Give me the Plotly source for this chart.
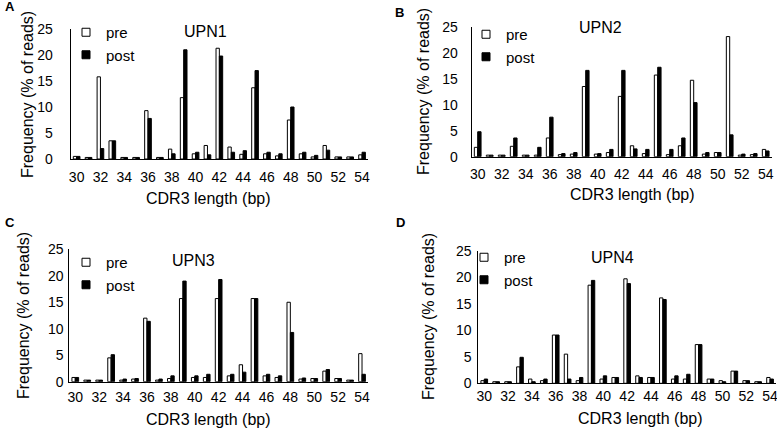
import plotly.graph_objects as go

lengths = list(range(30, 55))
tick_labels = [str(v) for v in range(30, 55, 2)]

upn1_pre = [0.5, 0.3, 15.8, 3.5, 0.3, 0.3, 9.3, 0.3, 1.9, 11.8, 1.0, 2.6, 21.3, 2.3, 0.9, 13.7, 1.0, 0.6, 7.5, 1.0, 0.4, 2.6, 0.4, 0.4, 0.8]
upn1_post = [0.5, 0.3, 2.0, 3.5, 0.3, 0.3, 7.8, 0.3, 1.0, 21.0, 1.3, 0.8, 19.8, 1.3, 1.6, 17.0, 1.3, 1.0, 10.0, 1.3, 0.7, 1.7, 0.4, 0.4, 1.3]

upn2_pre = [1.8, 0.3, 0.3, 2.0, 0.3, 0.3, 3.6, 0.4, 0.5, 13.5, 0.5, 0.8, 11.6, 2.1, 0.6, 15.7, 0.4, 2.1, 14.7, 0.5, 0.8, 23.1, 0.3, 0.4, 1.4]
upn2_post = [4.8, 0.3, 0.3, 3.6, 0.3, 1.8, 7.6, 0.6, 0.8, 16.6, 0.6, 1.4, 16.6, 1.5, 1.4, 17.2, 1.4, 3.6, 10.4, 0.8, 0.8, 4.2, 0.5, 0.6, 1.1]

upn3_pre = [0.8, 0.3, 0.3, 4.5, 0.3, 0.5, 12.0, 0.3, 0.6, 15.7, 0.8, 0.8, 15.7, 1.1, 3.2, 15.7, 1.1, 0.8, 15.0, 0.5, 0.6, 2.0, 0.6, 0.3, 5.3]
upn3_post = [0.8, 0.3, 0.3, 5.1, 0.5, 0.6, 11.4, 0.5, 1.1, 19.0, 1.1, 1.4, 19.3, 1.4, 1.8, 15.7, 1.4, 1.1, 9.3, 0.7, 0.6, 2.3, 0.6, 0.3, 1.4]

upn4_pre = [0.5, 0.3, 0.3, 3.1, 0.8, 0.5, 9.1, 5.5, 0.5, 18.5, 0.8, 1.1, 19.7, 1.4, 1.1, 16.1, 0.8, 0.8, 7.3, 0.8, 0.5, 2.3, 0.5, 0.3, 1.1]
upn4_post = [0.8, 0.3, 0.3, 4.9, 0.3, 0.8, 9.1, 0.8, 1.1, 19.4, 1.4, 1.1, 18.8, 1.1, 1.1, 15.8, 1.4, 1.7, 7.3, 0.8, 0.3, 2.3, 0.5, 0.3, 0.8]

panels = [
    ("UPN1", upn1_pre, upn1_post),
    ("UPN2", upn2_pre, upn2_post),
    ("UPN3", upn3_pre, upn3_post),
    ("UPN4", upn4_pre, upn4_post),
]

W, H = 777, 433
FONT = "Liberation Sans, Arial, sans-serif"

# plot areas in pixels: (x0, x1, ytop, ybottom)
areas = [
    (70.7, 368.0, 29.0, 159.0),
    (471.7, 771.7, 26.7, 156.7),
    (69.3, 368.0, 249.3, 381.7),
    (478.3, 776.0, 250.7, 383.3),
]

fig = go.Figure()
layout = dict(
    width=W, height=H, margin=dict(l=0, r=0, t=0, b=0, autoexpand=False),
    paper_bgcolor="white", plot_bgcolor="white",
    bargap=0.44, bargroupgap=0.0, barmode="group",
    font=dict(family=FONT, color="black"),
    annotations=[],
)

legend_pos = [(66, 16), (466, 18), (66, 246), (464, 241)]
title_pos = [(205, 32), (600, 27), (193, 260), (612, 257)]
letter_pos = [(3, 7), (393, 12), (3, 222), (394, 222)]
xtitle_pos = [(209, 198), (632, 194), (209, 419), (640, 418)]
ytitle_pos = [(27, 95), (423, 92), (23, 316), (428, 317)]
x_standoff = [5, 4, 2, 0]
y_standoff = [14, 10, 2, 3]
letters = ["A", "B", "C", "D"]

for i, (name, pre, post) in enumerate(panels):
    k = "" if i == 0 else str(i + 1)
    lg = "legend" + k
    x0, x1, yt, yb = areas[i]
    fig.add_trace(go.Bar(x=lengths, y=pre, name="pre", xaxis="x" + k, yaxis="y" + k,
                         marker=dict(color="white", line=dict(color="black", width=1)),
                         showlegend=False))
    fig.add_trace(go.Bar(x=lengths, y=post, name="post", xaxis="x" + k, yaxis="y" + k,
                         marker=dict(color="black", line=dict(color="black", width=1)),
                         showlegend=False))
    # legend entries (small square symbols like the original)
    fig.add_trace(go.Scatter(x=[None], y=[None], name="pre", mode="markers",
                             xaxis="x" + k, yaxis="y" + k, legend=lg,
                             marker=dict(symbol="square", size=8, color="white",
                                         line=dict(color="black", width=1))))
    fig.add_trace(go.Scatter(x=[None], y=[None], name="post", mode="markers",
                             xaxis="x" + k, yaxis="y" + k, legend=lg,
                             marker=dict(symbol="square", size=8, color="black",
                                         line=dict(color="black", width=1))))
    layout["xaxis" + k] = dict(
        domain=[x0 / W, x1 / W], anchor="y" + k, range=[29.5, 54.5],
        tickmode="array", tickvals=list(range(30, 55, 2)), ticktext=tick_labels,
        showline=True, linecolor="black", linewidth=1, showgrid=False, zeroline=False,
        ticks="", ticklabelstandoff=x_standoff[i], ticklabeloverflow="allow",
        tickfont=dict(size=14, family=FONT),
    )
    layout["yaxis" + k] = dict(
        domain=[1 - yb / H, 1 - yt / H], anchor="x" + k, range=[0, 25],
        tickmode="array", tickvals=[0, 5, 10, 15, 20, 25],
        showline=True, linecolor="black", linewidth=1, showgrid=False, zeroline=False,
        ticks="", ticklabelstandoff=y_standoff[i], ticklabeloverflow="allow",
        tickfont=dict(size=14, family=FONT),
    )
    lx, ly = legend_pos[i]
    layout[lg] = dict(
        x=lx / W, y=1 - ly / H, xanchor="left", yanchor="top",
        bgcolor="rgba(0,0,0,0)", font=dict(size=15, family=FONT),
        tracegroupgap=0, itemwidth=30,
    )
    tx, ty = title_pos[i]
    layout["annotations"].append(dict(
        text=name, x=tx / W, y=1 - ty / H, xref="paper", yref="paper",
        xanchor="center", yanchor="middle", showarrow=False, font=dict(size=16, family=FONT)))
    px, py = letter_pos[i]
    layout["annotations"].append(dict(
        text="<b>" + letters[i] + "</b>", x=px / W, y=1 - py / H, xref="paper", yref="paper",
        xanchor="left", yanchor="middle", showarrow=False, font=dict(size=13, family=FONT)))
    ax_, ay_ = xtitle_pos[i]
    layout["annotations"].append(dict(
        text="CDR3 length (bp)", x=ax_ / W, y=1 - ay_ / H, xref="paper", yref="paper",
        xanchor="center", yanchor="middle", showarrow=False, font=dict(size=16, family=FONT)))
    yx, yy = ytitle_pos[i]
    layout["annotations"].append(dict(
        text="Frequency (% of reads)", x=yx / W, y=1 - yy / H, xref="paper", yref="paper",
        xanchor="center", yanchor="middle", showarrow=False, textangle=-90,
        font=dict(size=16, family=FONT)))

fig.update_layout(**layout)
fig.write_html("out.html", config={"displayModeBar": False},
               post_script="document.body.style.margin='0px';")
